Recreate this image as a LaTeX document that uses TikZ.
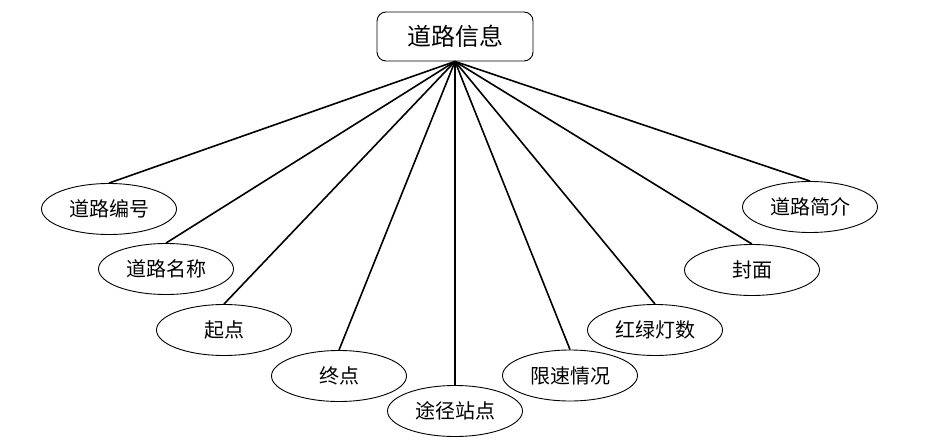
\documentclass[tikz,border=0pt]{standalone}
\usepackage{fontspec}
\newfontfamily\cjk{Noto Sans CJK SC}
\usetikzlibrary{shapes.geometric}
\begin{document}
\begin{tikzpicture}[x=1pt,y=-1pt,
  attr/.style={ellipse,draw,line width=0.9pt,minimum width=135pt,minimum height=51pt,inner sep=0pt,font=\cjk\fontsize{20}{20}\selectfont},
  entity/.style={rectangle,rounded corners=9pt,draw,line width=0.9pt,minimum width=156pt,minimum height=49pt,inner sep=0pt,font=\cjk\fontsize{24}{24}\selectfont},
  link/.style={line width=1.6pt}]
\useasboundingbox (0,0) rectangle (944,447);
\node[entity] (top) at (455,36.5) {道路信息};
\node[attr] (a1) at (109,209) {道路编号};
\node[attr] (a2) at (166,269) {道路名称};
\node[attr] (a3) at (224,330) {起点};
\node[attr] (a4) at (339,376) {终点};
\node[attr] (a5) at (455,411) {途径站点};
\node[attr] (a6) at (570,375.5) {限速情况};
\node[attr] (a7) at (655,330) {红绿灯数};
\node[attr] (a8) at (752,270) {封面};
\node[attr] (a9) at (810,207) {道路简介};
\foreach \n in {a1,a2,a3,a4,a5,a6,a7,a8,a9}
  \draw[link] (top.south) -- (\n.north);
\end{tikzpicture}
\end{document}
